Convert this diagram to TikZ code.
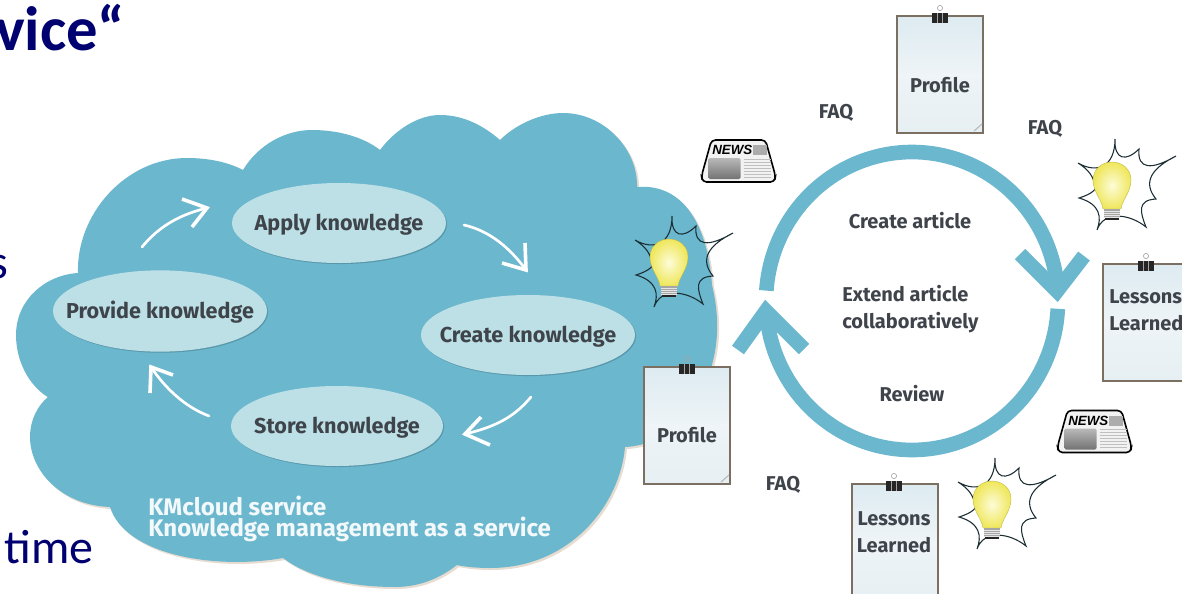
\documentclass[tikz,border=0pt]{standalone}
\usepackage{fontspec}
\setmainfont{Fira Sans}
\newfontfamily\titlefont{Carlito}
\newfontfamily\newsfont{Liberation Sans}
\usetikzlibrary{calc,shapes.geometric}
\definecolor{cloudblue}{HTML}{6BB7CE}
\definecolor{pale}{HTML}{BDE0E7}
\definecolor{ink}{HTML}{3F444B}
\definecolor{navy}{HTML}{000070}
\definecolor{paperline}{HTML}{7B6F62}
\definecolor{sheetA}{HTML}{DDEBF1}
\definecolor{sheetB}{HTML}{EEF4F7}
\definecolor{sheetC}{HTML}{E6EFF3}
\definecolor{bulbin}{HTML}{FDFCD8}
\definecolor{bulbout}{HTML}{EFE75C}
\newcommand{\cloudoutline}{
  (78,273) .. controls (76,215) and (125,158) .. (187,158)
  .. controls (208,158) and (228,162) .. (243,170)
  .. controls (258,145) and (285,130) .. (312,130)
  .. controls (340,130) and (365,138) .. (380,150)
  .. controls (395,130) and (418,115) .. (440,115)
  .. controls (465,115) and (485,127) .. (500,140)
  .. controls (515,125) and (540,113) .. (563,113)
  .. controls (605,113) and (638,150) .. (637,187)
  .. controls (685,183) and (708,228) .. (712,285)
  .. controls (718,310) and (722,345) .. (705,385)
  .. controls (695,415) and (665,445) .. (625,447)
  .. controls (620,505) and (570,568) .. (490,568)
  .. controls (478,568) and (466,567) .. (457,565)
  .. controls (440,578) and (420,587) .. (395,587)
  .. controls (345,587) and (305,575) .. (283,558)
  .. controls (215,570) and (125,555) .. (110,507)
  .. controls (60,505) and (30,470) .. (30,437)
  .. controls (30,420) and (38,405) .. (48,397)
  .. controls (28,385) and (16,360) .. (16,335)
  .. controls (16,300) and (45,275) .. (78,273) -- cycle}
\newcommand{\ztext}[1]{\makebox[0pt][c]{\raisebox{-5.5pt}[0pt][0pt]{#1}}}
\tikzset{
  stage/.style={ellipse,fill=pale,inner sep=0pt,text=ink,font=\fontsize{16.2}{18}\selectfont\bfseries,
     preaction={fill=black!50!cloudblue,opacity=.35,transform canvas={shift={(.8pt,-.8pt)}}}},
  label/.style={text=ink,font=\fontsize{15}{19}\selectfont\bfseries,inner sep=0pt},
  flow/.style={draw=white,line width=2pt,line cap=round},
  flowhead/.style={draw=white,line width=2.7pt,line join=miter,miter limit=8},
  ring/.style={draw=cloudblue,line width=11pt},
  ringhead/.style={draw=cloudblue,line width=11pt,line join=miter,miter limit=8},
  sheet/.style={rectangle,draw=paperline,line width=1.6pt,minimum width=64.5pt,minimum height=87.75pt,
     inner sep=0pt,top color=sheetA,bottom color=sheetC,middle color=sheetB},
  bulbpic/.pic={
    \draw[draw=black!75!cloudblue,line width=.8pt,fill=none] (-34,-19)
      .. controls (-15,-8) and (3,-15) .. (3,-43)
      .. controls (2,-22) and (14,-20) .. (27,-33)
      .. controls (25,-12) and (40,-12) .. (64,-26)
      .. controls (40,-14) and (30,0) .. (44,17)
      .. controls (25,18) and (28,30) .. (34,45)
      .. controls (18,32) and (-8,28) .. (-15,48)
      .. controls (-10,35) and (-12,22) .. (-33,16)
      .. controls (-20,12) and (-12,6) .. (-18,0)
      .. controls (-20,-8) and (-26,-14) .. (-34,-19);
    \shade[inner color=bulbin,outer color=bulbout,draw=bulbout!80!black,line width=.3pt]
      (-9,27) .. controls (-10,18) and (-19,10) .. (-19,-2)
      .. controls (-19,-13) and (-10,-20) .. (0,-20)
      .. controls (10,-20) and (19,-13) .. (19,-2)
      .. controls (19,10) and (10,18) .. (9,27) -- cycle;
    \fill[gray!70] (-8,27) rectangle (8,36);
    \foreach \yy in {29,31,33,35} \draw[white!80!gray,line width=.5pt] (-8,\yy) -- (8,\yy);
    \fill[black!85] (-7,36) rectangle (7,38);
  },
  newspic/.pic={
    \draw[black,line width=1.2pt,rounded corners=3pt,fill=gray!10] (-27,-21) -- (27,-21) -- (37,15) -- (36,21) -- (-36,21) -- (-37,15) -- cycle;
    \shade[top color=gray!55,bottom color=gray!90!black,rounded corners=1pt] (-30,-3) rectangle (2,18);
    \fill[gray!65] (14,-16) rectangle (28,-6);
    \foreach \yy in {-2,1,...,16} \draw[gray!50,line width=.4pt] (5,\yy) -- (32,\yy);
    \node[anchor=west,inner sep=0pt,font=\newsfont\fontsize{10}{12}\selectfont\bfseries\itshape] at (-26.5,-11) {NEWS};
  },
  clippic/.pic={
    \draw[gray!70,line width=.5pt] (0,-8) circle[radius=2.6];
    \fill[black!85] (-8,-3) rectangle (8,7);
    \draw[gray!70,line width=.5pt] (-2.7,-3) -- (-2.7,7) (2.7,-3) -- (2.7,7);
  },
  curlpic/.pic={
    \draw[gray!55,line width=.8pt] (-9,-2) -- (-1,-9);
  }
}
\begin{document}
\begin{tikzpicture}[x=.75pt,y=-.75pt]
\path[use as bounding box,clip] (0,0) rectangle (1182,593);
% title fragments
\node[anchor=base west,inner sep=0pt,text=navy,font=\titlefont\fontsize{47}{49}\selectfont\bfseries] (ttl) at (-5,50) {vice“};
\node[anchor=base west,inner sep=0pt,text=navy,font=\titlefont\fontsize{36}{40}\selectfont] (frag) at (-11,278) {s};
\node[anchor=base west,inner sep=0pt,text=navy,font=\titlefont\fontsize{36}{40}\selectfont] (tim) at (4,563) {time};
% cloud
\begin{scope}[shift={(2,2)}]
\fill[brown!60!gray,opacity=.28] \cloudoutline;
\end{scope}
\fill[cloudblue] \cloudoutline;
% stages
\node[stage,minimum width=160.5pt,minimum height=60pt] (apply) at (339,223) {\ztext{Apply knowledge}};
\node[stage,minimum width=160.5pt,minimum height=61pt] (provide) at (160,311) {\ztext{Provide knowledge}};
\node[stage,minimum width=160.5pt,minimum height=60pt] (create) at (528,335) {\ztext{Create knowledge}};
\node[stage,minimum width=159pt,minimum height=60pt] (store) at (337,426) {\ztext{Store knowledge}};
% flows
\coordinate (f1a) at (142,247); \coordinate (f1b) at (207,208);
\coordinate (f2a) at (464,225); \coordinate (f2b) at (526,270);
\coordinate (f3a) at (531,397); \coordinate (f3b) at (465,434);
\coordinate (f4a) at (209,416); \coordinate (f4b) at (151,367);
\draw[flow] (f1a) .. controls (160,225) and (182,214) .. (f1b);
\draw[flowhead] (182,199) -- (f1b) -- (192,227);
\draw[flow] (f2a) .. controls (490,231) and (510,248) .. (f2b);
\draw[flowhead] (525,243) -- (f2b) -- (502,263);
\draw[flow] (f3a) .. controls (512,420) and (490,428) .. (f3b);
\draw[flowhead] (481,417) -- (f3b) -- (490,445);
\draw[flow] (f4a) .. controls (185,407) and (165,388) .. (f4b);
\draw[flowhead] (173,375) -- (f4b) -- (150,393);
% cloud caption
\node[anchor=north west,align=left,inner sep=0pt,text=white!92!cloudblue,font=\fontsize{18}{15.6}\selectfont\bfseries] (cap) at (148,495.5) {KMcloud service\\Knowledge management as a service};
% ring
\draw[ring] plot[domain=184:356,samples=90] ({912+146*cos(\x)},{301+149*sin(\x)});
\draw[ringhead] (1020,254) -- (1057,291) -- (1084,256);
\draw[ring] plot[domain=3:176,samples=90] ({912+146*cos(\x)},{301+149*sin(\x)});
\draw[ringhead] (738,350) -- (766,311) -- (804,349);
% ring labels
\node[label] (l1) at (910,221) {Create article};
\node[label,align=left,anchor=west] (l2) at (842,309) {Extend article\\[1pt]collaboratively};
\node[label] (l3) at (912,394) {Review};
\node[label] (faq1) at (836,113) {FAQ};
\node[label] (faq2) at (1045,129) {FAQ};
\node[label] (faq3) at (783,485) {FAQ};
% sheets
\node[sheet] (p1) at (940,74.5) {};
\node[label] (p1t) at (940,85) {Profile};
\pic at (940,16) {clippic}; \pic at (983,133) {curlpic};
\node[sheet] (p2) at (687,425.5) {};
\node[label] (p2t) at (687,435) {Profile};
\pic at (687,367) {clippic}; \pic at (730,484) {curlpic};
\node[sheet] (p3) at (1146,322.5) {};
\node[label,anchor=west,align=left] (p3t) at (1109,310) {Lessons\\[1pt]Learned};
\pic at (1146,264) {clippic};
\node[sheet] (p4) at (895,542.5) {};
\node[label,align=center] (p4t) at (894,532) {Lessons\\[1pt]Learned};
\pic at (894,484) {clippic};
% icons
\pic at (669,259) {bulbpic};
\pic at (1112,182) {bulbpic};
\pic at (992,501) {bulbpic};
\pic at (738.5,161) {newspic};
\pic at (1094.5,431.5) {newspic};
\end{tikzpicture}
\end{document}
